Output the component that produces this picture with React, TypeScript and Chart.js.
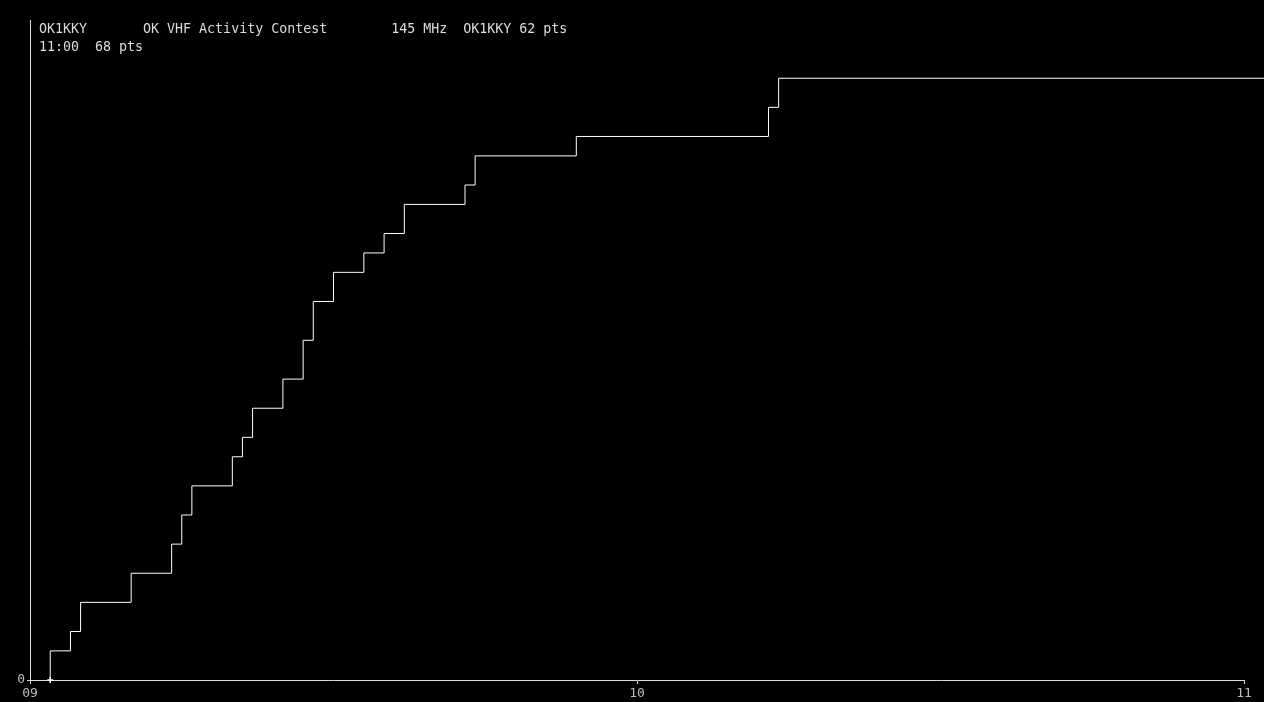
import React, { useEffect, useRef } from "react";
import { Chart, registerables } from "chart.js";

Chart.register(...registerables);

// score progress of the station (minutes after 09:00, cumulative points)
const qsoMinutes = [2, 4, 5, 10, 14, 15, 16, 20, 21, 22, 25, 27, 28, 30, 33, 35, 37, 43, 44, 54, 73, 74];
const qsoPoints = [3, 5, 8, 11, 14, 17, 20, 23, 25, 28, 31, 35, 39, 42, 44, 46, 49, 51, 54, 56, 59, 62];
const hourLabels = ["09", "10", "11"];
const endMinute = 122;

const headerLines = [
    "OK1KKY       OK VHF Activity Contest        145 MHz  OK1KKY 62 pts",
    "11:00  68 pts",
];

const MONO = '"DejaVu Sans Mono", "Liberation Mono", monospace';

const headerPlugin = {
    id: "header",
    afterDraw(chart: Chart) {
        const { ctx } = chart;
        ctx.save();
        ctx.font = `13.3px ${MONO}`;
        ctx.fillStyle = "#dcdcdc";
        ctx.textBaseline = "middle";
        ctx.textAlign = "left";
        headerLines.forEach((line, i) => ctx.fillText(line, 39, 30 + i * 18));
        ctx.restore();
    },
};

export default function App() {
    const canvasRef = useRef<HTMLCanvasElement | null>(null);
    const chartRef = useRef<Chart | null>(null);

    useEffect(() => {
        if (!canvasRef.current) return;
        if (chartRef.current) chartRef.current.destroy();

        const last = qsoPoints[qsoPoints.length - 1];
        const data = [
            { x: qsoMinutes[0], y: 0 },
            ...qsoMinutes.map((m, i) => ({ x: m, y: qsoPoints[i] })),
            { x: endMinute, y: last },
        ];

        chartRef.current = new Chart(canvasRef.current, {
            type: "line",
            data: {
                datasets: [
                    {
                        data,
                        stepped: "before",
                        borderColor: "#ffffff",
                        borderWidth: 1,
                        pointStyle: "cross",
                        pointRadius: (c: any) => (c.dataIndex === 0 ? 3 : 0),
                        pointBorderColor: "#ffffff",
                        pointBorderWidth: 1.5,
                        clip: false,
                    },
                ],
            },
            plugins: [headerPlugin],
            options: {
                animation: false,
                responsive: true,
                maintainAspectRatio: false,
                layout: { padding: { top: 20, right: 20, left: 0, bottom: 0 } },
                plugins: {
                    legend: { display: false },
                    tooltip: { enabled: false },
                },
                scales: {
                    x: {
                        type: "linear",
                        min: 0,
                        max: 120,
                        afterFit: (s: any) => {
                            s.height = 22;
                        },
                        afterBuildTicks: (s: any) => {
                            s.ticks = hourLabels.map((_, i) => ({ value: i * 60 }));
                        },
                        ticks: {
                            color: "#bdbdbd",
                            font: { family: MONO, size: 13 },
                            padding: 2,
                            maxRotation: 0,
                            callback: (v: any) => hourLabels[Math.round(Number(v) / 60)],
                        },
                        grid: { drawOnChartArea: false, drawTicks: true, tickLength: 4, color: "#dddddd" },
                        border: { display: true, color: "#dddddd", width: 1 },
                    },
                    y: {
                        type: "linear",
                        min: 0,
                        max: 68,
                        afterFit: (s: any) => {
                            s.width = 30;
                        },
                        afterBuildTicks: (s: any) => {
                            s.ticks = [{ value: 0 }];
                        },
                        ticks: {
                            color: "#bdbdbd",
                            font: { family: MONO, size: 13 },
                            padding: 2,
                        },
                        grid: { drawOnChartArea: false, drawTicks: true, tickLength: 3, color: "#dddddd" },
                        border: { display: true, color: "#dddddd", width: 1 },
                    },
                },
            },
        });

        return () => {
            chartRef.current?.destroy();
            chartRef.current = null;
        };
    }, []);

    return (
        <div style={{ position: "fixed", left: 0, top: 0, width: 1264, height: 702, background: "#000" }}>
            <canvas ref={canvasRef}></canvas>
        </div>
    );
}
